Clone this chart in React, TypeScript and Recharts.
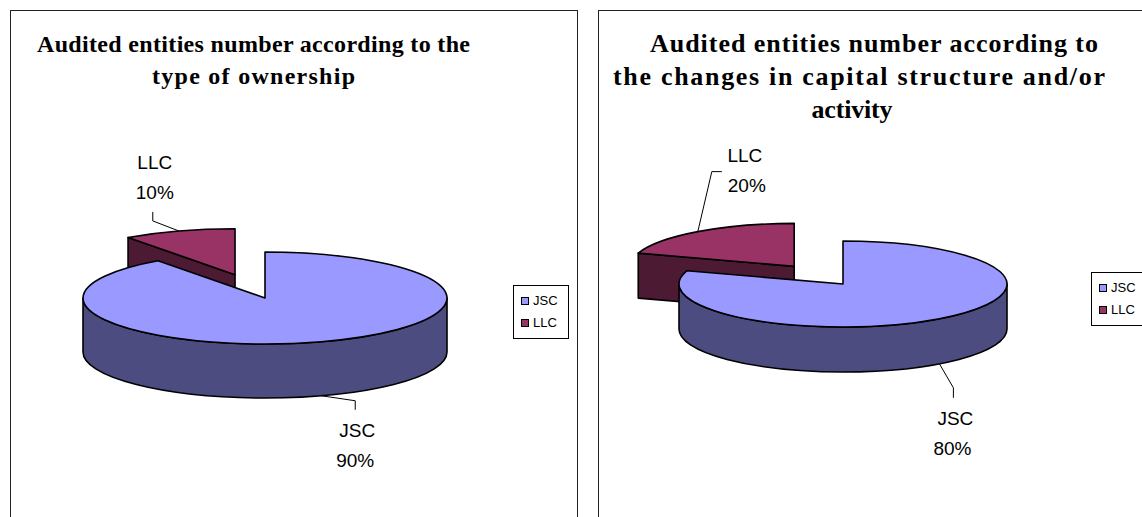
import React from 'react';
import { PieChart, Pie, Cell, Legend } from 'recharts';

// data
const categories = ['LLC', 'JSC'];
const ownershipShare = [10, 90];
const capitalChangeShare = [20, 80];
const legendOrder = ['JSC', 'LLC'];
const ownershipTitle = ['Audited entities number according to the', 'type of ownership'];
const capitalTitle = ['Audited entities number according to', 'the changes in capital structure and/or', 'activity'];

const topColors: Record<string, string> = { JSC: '#9999FF', LLC: '#993366' };
const sideColors: Record<string, string> = { JSC: '#4C4C80', LLC: '#4D1A33' };

type Pt = [number, number];
interface LabelPlace { elbow: Pt; end: Pt; name: Pt; pct: Pt }
interface PanelCfg {
  left: number; top: number; width: number; height: number;
  cx: number; cy: number; rx: number; ry: number; depth: number;
  explode: Record<string, number>;
  labels: Record<string, LabelPlace>;
  legend: { left: number; top: number };
}

const leftPanel: PanelCfg = {
  left: 10, top: 10, width: 567, height: 507,
  cx: 255, cy: 288, rx: 182, ry: 46, depth: 54,
  explode: { LLC: 97, JSC: 0 },
  labels: {
    LLC: { elbow: [-26, -10], end: [-26, -19], name: [-24, -69], pct: [-24, -39] },
    JSC: { elbow: [34, 5], end: [34, 14], name: [36, 34], pct: [34, 64] },
  },
  legend: { left: 503, top: 275 },
};

const rightPanel: PanelCfg = {
  left: 598, top: 10, width: 544, height: 507,
  cx: 245, cy: 274, rx: 164, ry: 43, depth: 45,
  explode: { LLC: 83, JSC: 0 },
  labels: {
    LLC: { elbow: [14, -60], end: [24, -60], name: [47, -77], pct: [49, -47] },
    JSC: { elbow: [14, 24], end: [14, 34], name: [16, 54], pct: [13, 84] },
  },
  legend: { left: 493, top: 262 },
};

const titleLines = [
  { text: ownershipTitle[0], x: 253.5, y: 52, w: 433, size: 24 },
  { text: ownershipTitle[1], x: 253.5, y: 84, w: 203, size: 24 },
  { text: capitalTitle[0], x: 874, y: 52, w: 448, size: 26 },
  { text: capitalTitle[1], x: 859, y: 85, w: 492, size: 26 },
  { text: capitalTitle[2], x: 852, y: 118, w: 81, size: 26 },
];

const RAD = Math.PI / 180;
const f = (n: number) => n.toFixed(2);
const labelFont = { fontFamily: '"Liberation Sans", Arial, sans-serif', fontSize: 19, fill: '#000' };

// draws each slice as an exploded, tilted 3D wedge using the angles recharts computed
function make3dSlice(cfg: PanelCfg) {
  return (p: any) => {
    const name: string = p.name;
    const lo = Math.min(p.startAngle, p.endAngle);
    const hi = Math.max(p.startAngle, p.endAngle);
    const m = p.midAngle;
    const rx = p.outerRadius;
    const ry = cfg.ry;
    const d = cfg.depth;
    const e = cfg.explode[name] ?? 0;
    const ox = p.cx + e * Math.cos(m * RAD);
    const oy = p.cy - e * (ry / rx) * Math.sin(m * RAD);
    const pt = (a: number, dz = 0): Pt => [ox + rx * Math.cos(a * RAD), oy - ry * Math.sin(a * RAD) + dz];

    const faceStyle = { stroke: '#000', strokeWidth: 1.6, strokeLinejoin: 'round' as const, fillOpacity: 1 };
    const walls: React.ReactNode[] = [];

    // outer wall, front half only
    for (let k = -1; k <= 1; k++) {
      const b1 = Math.max(lo, 180 + 360 * k);
      const b2 = Math.min(hi, 360 + 360 * k);
      if (b2 > b1) {
        const [x1, y1] = pt(b1);
        const [x2, y2] = pt(b2);
        const dpath = `M${f(x1)},${f(y1)} A${rx},${ry} 0 0 0 ${f(x2)},${f(y2)} L${f(x2)},${f(y2 + d)} A${rx},${ry} 0 0 1 ${f(x1)},${f(y1 + d)} Z`;
        walls.push(<path key={`o${k}`} d={dpath} fill={sideColors[name]} {...faceStyle} />);
      }
    }
    // cut faces that turn toward the viewer
    const radial = (a: number, key: string) => {
      const [x, y] = pt(a);
      const dpath = `M${f(ox)},${f(oy)} L${f(x)},${f(y)} L${f(x)},${f(y + d)} L${f(ox)},${f(oy + d)} Z`;
      walls.push(<path key={key} d={dpath} fill={sideColors[name]} {...faceStyle} />);
    };
    if (Math.cos(lo * RAD) > 1e-6) radial(lo, 'r1');
    if (Math.cos(hi * RAD) < -1e-6) radial(hi, 'r2');

    const [sx, sy] = pt(lo);
    const [ex, ey] = pt(hi);
    const top = `M${f(ox)},${f(oy)} L${f(sx)},${f(sy)} A${rx},${ry} 0 ${hi - lo > 180 ? 1 : 0} 0 ${f(ex)},${f(ey)} Z`;

    const anchor: Pt = Math.sin(m * RAD) >= 0 ? pt(m) : pt(m, d);
    const lp = cfg.labels[name];
    const at = (o: Pt) => [anchor[0] + o[0], anchor[1] + o[1]];
    const [elx, ely] = at(lp.elbow);
    const [enx, eny] = at(lp.end);
    const [nx, ny] = at(lp.name);
    const [px, py] = at(lp.pct);

    return (
      <g key={`slice-${name}`}>
        {walls}
        <path d={top} fill={topColors[name]} {...faceStyle} />
        <polyline
          points={`${f(anchor[0])},${f(anchor[1])} ${f(elx)},${f(ely)} ${f(enx)},${f(eny)}`}
          fill="none" stroke="#000" strokeWidth={1}
        />
        <text x={nx} y={ny + 7} textAnchor="middle" {...labelFont}>{name}</text>
        <text x={px} y={py + 7} textAnchor="middle" {...labelFont}>{`${Math.round(p.percent * 100)}%`}</text>
      </g>
    );
  };
}

const legendContent = (props: any) => {
  const payload: any[] = props.payload ?? [];
  const items = legendOrder.filter((n) => payload.some((q) => q.value === n));
  return (
    <div style={{
      border: '1px solid #000', background: '#fff', padding: '4px 10px 4px 7px',
      fontFamily: '"Liberation Sans", Arial, sans-serif', fontSize: 13, lineHeight: '22px', color: '#000',
    }}>
      {items.map((n) => (
        <div key={n} style={{ display: 'flex', alignItems: 'center', whiteSpace: 'nowrap' }}>
          <span style={{ width: 6, height: 6, border: '1px solid #000', background: topColors[n], marginRight: 4, display: 'inline-block' }} />
          {n}
        </div>
      ))}
    </div>
  );
};

function Panel3dPie({ cfg, shares }: { cfg: PanelCfg; shares: number[] }) {
  const data = categories.map((c, i) => ({ name: c, value: shares[i] }));
  return (
    <div style={{ position: 'absolute', left: cfg.left, top: cfg.top }}>
      <PieChart width={cfg.width} height={cfg.height} margin={{ top: 0, right: 0, bottom: 0, left: 0 }}>
        <Pie
          data={data}
          dataKey="value"
          nameKey="name"
          cx={cfg.cx}
          cy={cfg.cy}
          innerRadius={0}
          outerRadius={cfg.rx}
          startAngle={90}
          endAngle={450}
          stroke="none"
          fillOpacity={0}
          labelLine={false}
          label={make3dSlice(cfg)}
          isAnimationActive={false}
        >
          {data.map((d) => (
            <Cell key={d.name} fill={topColors[d.name]} fillOpacity={0} stroke="none" />
          ))}
        </Pie>
        <Legend
          layout="vertical"
          align="right"
          verticalAlign="top"
          content={legendContent}
          wrapperStyle={{ left: cfg.legend.left, top: cfg.legend.top, right: 'auto', width: 'auto' }}
        />
      </PieChart>
    </div>
  );
}

export default function App() {
  return (
    <div style={{ position: 'absolute', left: 0, top: 0, width: 1142, height: 517, overflow: 'hidden', background: '#fff' }}>
      <div style={{ position: 'absolute', left: 10, top: 10, width: 568, height: 540, border: '1px solid #222', boxSizing: 'border-box' }} />
      <div style={{ position: 'absolute', left: 598, top: 10, width: 600, height: 540, border: '1px solid #222', boxSizing: 'border-box' }} />
      <Panel3dPie cfg={leftPanel} shares={ownershipShare} />
      <Panel3dPie cfg={rightPanel} shares={capitalChangeShare} />
      <svg width={1142} height={130} style={{ position: 'absolute', left: 0, top: 0, pointerEvents: 'none' }}>
        {titleLines.map((t) => (
          <text
            key={t.text}
            x={t.x}
            y={t.y}
            textAnchor="middle"
            textLength={t.w}
            lengthAdjust="spacing"
            fontFamily='"Liberation Serif", "Times New Roman", serif'
            fontWeight="bold"
            fontSize={t.size}
            fill="#000"
          >
            {t.text}
          </text>
        ))}
      </svg>
    </div>
  );
}
